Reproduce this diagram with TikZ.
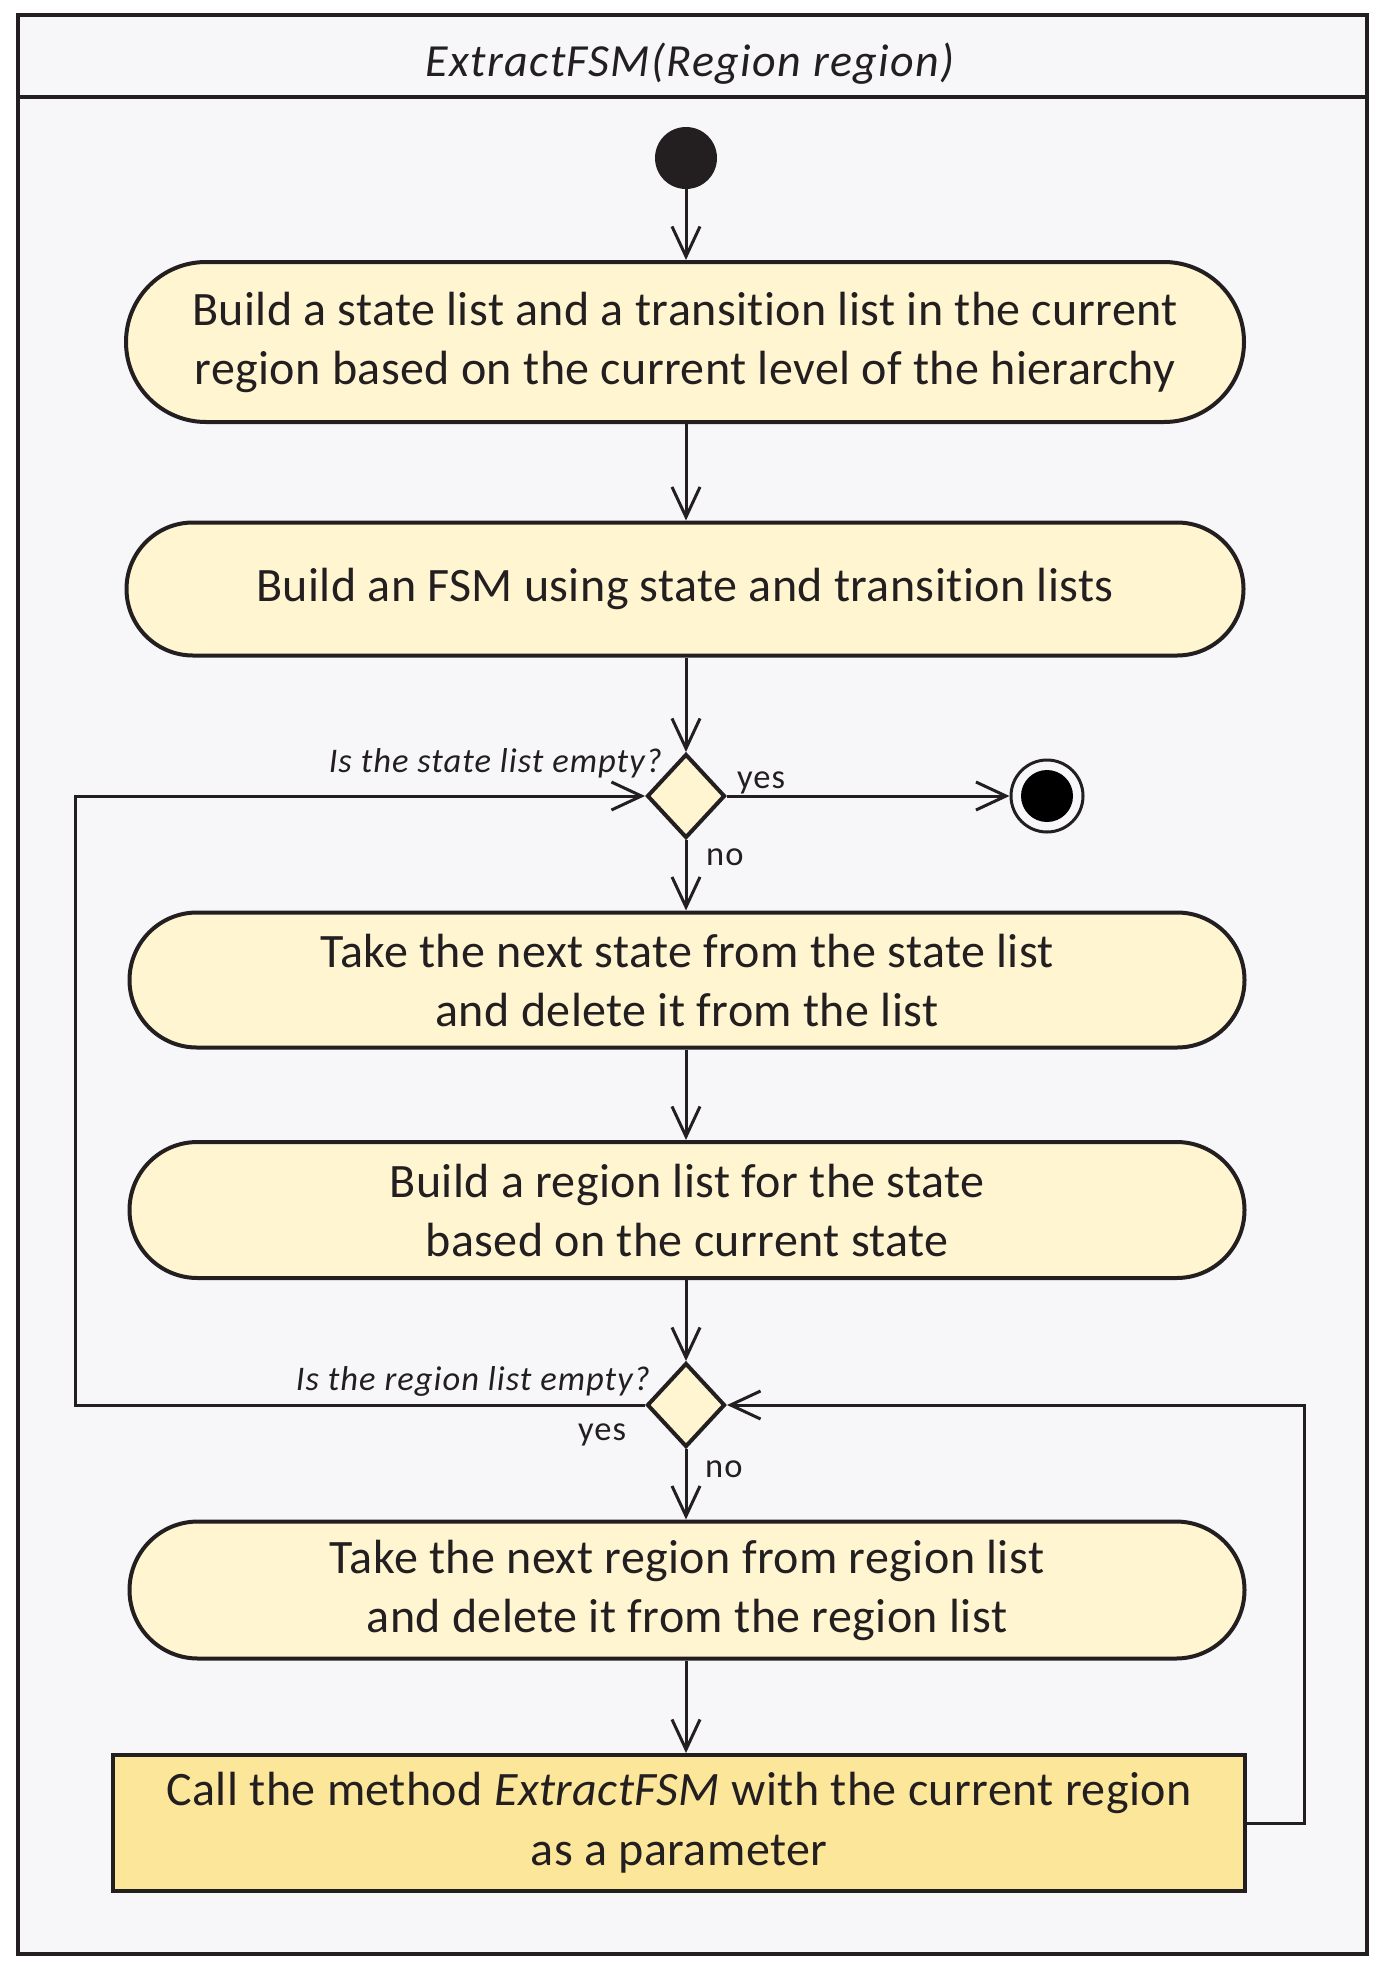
\documentclass[tikz,border=0pt]{standalone}
\usepackage{fontspec}
\setmainfont{Carlito}[LetterSpace=0.9,RawFeature={-liga;-clig;-calt;-dlig}]
\newfontfamily\labelfont{Carlito}[LetterSpace=3,RawFeature={-liga;-clig;-calt;-dlig}]
\usetikzlibrary{arrows.meta,shapes.geometric,shapes.misc}
\definecolor{bgc}{HTML}{F7F7F9}
\definecolor{linec}{HTML}{231F20}
\definecolor{statec}{HTML}{FFF5D1}
\definecolor{callc}{HTML}{FCE699}
\tikzset{
  stadium/.style={rounded rectangle, draw=linec, line width=4pt, fill=statec, inner sep=0pt,
    align=center, font=\fontsize{48}{59}\selectfont, text=linec},
  callbox/.style={rectangle, draw=linec, line width=4pt, fill=callc, inner sep=0pt,
    align=center, font=\fontsize{48}{60}\selectfont, text=linec},
  decision/.style={diamond, draw=linec, line width=4pt, fill=statec, inner sep=0pt,
    minimum width=78pt, minimum height=84pt},
  conn/.style={draw=linec, line width=3pt, -{Straight Barb[length=30pt,width=28pt]}},
  lbl/.style={font=\labelfont\fontsize{34.5}{40}\selectfont, text=linec, inner sep=0pt},
  guard/.style={lbl, font=\labelfont\itshape\fontsize{34.5}{40}\selectfont},
}
\begin{document}
\begin{tikzpicture}[x=1pt,y=-1pt]
\useasboundingbox (0,0) rectangle (1384,1968);
\fill[white] (0,0) rectangle (1384,1968);
\draw[draw=linec, line width=4pt, fill=bgc] (18,15) rectangle (1367,1954);
\draw[draw=linec, line width=4pt] (18,97) -- (1367,97);
\node[anchor=base, inner sep=0pt, text=linec, font=\labelfont\itshape\fontsize{46}{54}\selectfont] (title) at (690,76) {ExtractFSM(Region region)};

\node[circle, fill=linec, minimum size=62pt, inner sep=0pt] (start) at (686,158) {};

\node[stadium, minimum width=1118pt, minimum height=160pt] (b1) at (685,342)
  {Build a state list and a transition list in the current\\region based on the current level of the hierarchy};
\node[stadium, minimum width=1117pt, minimum height=133pt] (b2) at (685,589)
  {Build an FSM using state and transition lists};
\node[decision] (d1) at (686,796) {};
\node[circle, draw=linec, line width=3pt, fill=bgc, minimum size=72pt, inner sep=0pt] (fin) at (1047,796) {};
\node[circle, fill=black, minimum size=52pt, inner sep=0pt] (finin) at (fin.center) {};
\node[stadium, minimum width=1115pt, minimum height=135pt] (b3) at (687,980)
  {Take the next state from the state list\\and delete it from the list};
\node[stadium, minimum width=1115pt, minimum height=136pt] (b4) at (687,1210)
  {Build a region list for the state\\based on the current state};
\node[decision] (d2) at (686,1405) {};
\node[stadium, minimum width=1115pt, minimum height=137pt] (b5) at (687,1590)
  {Take the next region from region list\\and delete it from the region list};
\node[callbox, minimum width=1132pt, minimum height=136pt] (b6) at (679,1823)
  {Call the method \textit{ExtractFSM} with the current region\\as a parameter};

\coordinate (lc1) at (75,1405);
\coordinate (lc2) at (75,796);
\coordinate (rc1) at (1304,1823);
\coordinate (rc2) at (1304,1405);

\draw[conn] (start) -- (start |- b1.north);
\draw[conn] (d1 |- b1.south) -- (d1 |- b2.north);
\draw[conn] (d1 |- b2.south) -- (d1);
\draw[conn] (d1) -- (d1 |- b3.north);
\draw[conn] (d1.east) -- (fin);
\draw[conn] (d1 |- b3.south) -- (d1 |- b4.north);
\draw[conn] (d2 |- b4.south) -- (d2);
\draw[conn] (d2) -- (d2 |- b5.north);
\draw[conn] (d2 |- b5.south) -- (d2 |- b6.north);
\draw[conn] (d2.west) -- (lc1) -- (lc2) -- (d1.west);
\draw[conn] (b6.east) -- (rc1) -- (rc2) -- (d2.east);

\node[guard, anchor=base east] (q1) at (662,772) {Is the state list empty?};
\node[lbl, anchor=base west] (y1) at (737,788) {yes};
\node[lbl, anchor=base west] (n1) at (706,865) {no};
\node[guard, anchor=base east] (q2) at (650,1390) {Is the region list empty?};
\node[lbl, anchor=base west] (y2) at (578,1440) {yes};
\node[lbl, anchor=base west] (n2) at (705,1477) {no};
\end{tikzpicture}
\end{document}
